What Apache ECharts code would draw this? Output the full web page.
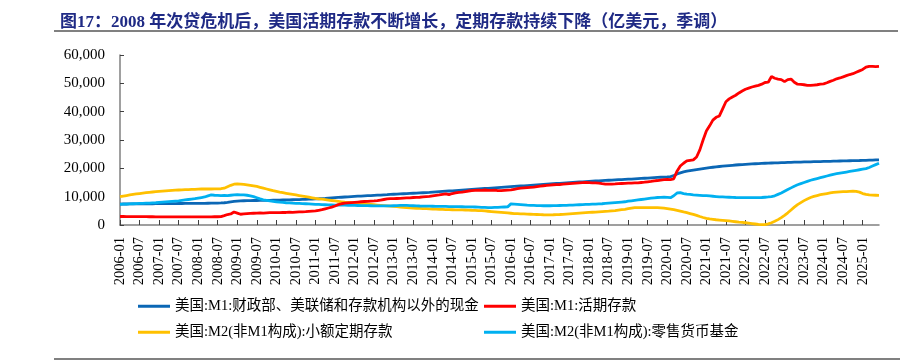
<!DOCTYPE html>
<html>
<head>
<meta charset="utf-8">
<script src="https://cdn.jsdelivr.net/npm/echarts@6/dist/echarts.min.js"></script>
<style>
html,body{margin:0;padding:0;background:#fff;}
#chart{width:918px;height:362px;}
</style>
</head>
<body>
<div id="chart"></div>
<script>
var titleText = '图17：2008 年次贷危机后，美国活期存款不断增长，定期存款持续下降（亿美元，季调）';
var seriesNames = [
  '美国:M1:财政部、美联储和存款机构以外的现金',
  '美国:M1:活期存款',
  '美国:M2(非M1构成):小额定期存款',
  '美国:M2(非M1构成):零售货币基金'
];
var startYear = 2006, monthCount = 234;
var yTicks = [0, 10000, 20000, 30000, 40000, 50000, 60000];

var currency = [
7400,7410,7420,7430,7440,7450,7460,7470,7480,7490,7500,7510,
7520,7530,7540,7550,7560,7570,7580,7590,7600,7610,7620,7630,
7640,7650,7660,7680,7700,7720,7750,7780,7850,8000,8200,8350,
8450,8520,8560,8600,8620,8640,8650,8660,8670,8690,8710,8740,
8770,8800,8830,8860,8890,8920,8950,8990,9030,9070,9110,9150,
9200,9260,9330,9400,9480,9560,9640,9720,9800,9880,9960,10040,
10100,10160,10220,10280,10340,10400,10460,10520,10580,10640,10700,10780,
10850,10910,10970,11030,11090,11150,11210,11270,11330,11390,11450,11520,
11600,11680,11760,11840,11920,12000,12080,12160,12240,12320,12400,12480,
12560,12640,12720,12800,12880,12960,13040,13120,13200,13280,13360,13440,
13520,13600,13680,13760,13840,13920,14000,14080,14160,14240,14320,14400,
14480,14560,14640,14720,14800,14880,14960,15040,15110,15180,15250,15320,
15390,15460,15530,15600,15670,15740,15800,15860,15920,15980,16040,16100,
16160,16220,16290,16360,16430,16500,16570,16640,16710,16780,16850,16920,
17000,17100,17400,18000,18400,18750,19000,19200,19400,19580,19750,19920,
20080,20230,20380,20520,20650,20770,20880,20980,21080,21170,21260,21340,
21420,21490,21560,21620,21680,21740,21790,21840,21880,21920,21960,22000,
22040,22080,22120,22160,22190,22220,22250,22280,22310,22340,22370,22400,
22430,22460,22490,22520,22550,22580,22610,22640,22670,22700,22730,22760,
22800,22840,22880,22920,22960,23000
];

var demandDeposits = [
3000,3010,2990,2980,2960,2970,2950,2930,2940,2920,2910,2900,
2890,2880,2900,2870,2860,2880,2850,2870,2860,2880,2870,2860,
2880,2870,2900,2880,2890,2910,2920,2950,3300,3700,3900,4600,
4200,3800,3900,4000,4100,4150,4200,4250,4200,4300,4350,4400,
4380,4400,4450,4420,4500,4480,4550,4600,4650,4700,4800,4900,
5000,5200,5400,5700,6000,6300,6700,7200,7500,7700,7800,7900,
8000,8100,8200,8300,8350,8450,8500,8600,8800,9000,9200,9300,
9300,9350,9400,9500,9550,9600,9700,9750,9800,9900,10000,10100,
10300,10450,10600,10800,11000,10700,11100,11300,11500,11600,11800,12000,
12100,12200,12300,12250,12350,12200,12250,12300,12150,12100,12200,12300,
12400,12600,12800,13000,13100,13200,13300,13400,13550,13700,13850,14000,
14100,14200,14250,14300,14400,14500,14600,14700,14800,14900,14950,15000,
14950,14900,14850,14800,14600,14450,14400,14450,14500,14600,14650,14700,
14750,14800,14850,14900,15000,15100,15250,15400,15600,15700,15850,16000,
16100,16050,16300,19000,20800,21800,22600,22800,23000,24000,26500,30000,
33200,35000,37000,38000,38500,41000,43500,44500,45200,45800,46600,47300,
47900,48300,48700,49000,49300,49700,50300,50400,52400,51800,51500,51300,
50600,51300,51500,50400,49700,49600,49500,49300,49300,49400,49500,49700,
49800,50200,50700,51100,51600,51900,52300,52700,53100,53400,53900,54400,
54900,55700,56000,56000,55900,56000
];

var smallTimeDeposits = [
10000,10200,10400,10600,10800,10950,11100,11250,11400,11550,11650,11750,
11850,11950,12050,12150,12250,12300,12350,12400,12450,12500,12550,12600,
12650,12700,12750,12700,12700,12750,12750,12800,13000,13500,14000,14400,
14500,14450,14350,14200,14000,13800,13600,13300,13000,12700,12400,12100,
11850,11600,11400,11200,11000,10800,10600,10400,10200,10000,9800,9600,
9400,9250,9100,8950,8800,8650,8500,8350,8200,8050,7950,7850,
7750,7650,7550,7450,7350,7250,7150,7050,6950,6850,6750,6650,
6550,6450,6350,6250,6150,6050,5950,5900,5850,5800,5750,5700,
5650,5600,5550,5500,5450,5400,5380,5360,5340,5320,5300,5280,
5200,5150,5100,5050,4950,4850,4750,4650,4550,4450,4350,4250,
4150,4050,4000,3950,3900,3850,3800,3750,3700,3650,3620,3600,
3600,3620,3650,3700,3780,3860,3940,4020,4100,4180,4260,4340,
4420,4500,4580,4660,4740,4820,4900,5000,5100,5250,5400,5550,
5750,5950,6100,6150,6150,6150,6150,6150,6150,6100,6050,5950,
5800,5600,5400,5150,4900,4600,4350,4050,3750,3400,3000,2650,
2350,2150,2000,1850,1750,1650,1550,1450,1300,1150,1000,900,
800,650,500,350,200,120,150,400,800,1300,1900,2600,
3400,4300,5300,6300,7200,7900,8600,9200,9700,10100,10400,10700,
10900,11100,11300,11500,11600,11700,11750,11800,11900,11950,11900,11600,
11100,10800,10600,10550,10500,10450
];

var retailMMF = [
7300,7350,7400,7450,7500,7550,7600,7650,7700,7750,7800,7850,
7950,8050,8150,8250,8350,8450,8550,8700,8850,9000,9150,9300,
9500,9700,9900,10300,10600,10500,10450,10400,10450,10350,10500,10650,
10700,10650,10600,10500,10300,10000,9600,9200,8900,8700,8500,8350,
8200,8050,7950,7850,7800,7700,7650,7600,7550,7500,7450,7400,
7300,7250,7200,7150,7100,7080,7050,7020,7000,6980,6950,6920,
6900,6880,6860,6840,6820,6800,6780,6760,6750,6740,6730,6720,
6800,6850,6900,6950,6900,6850,6800,6750,6700,6680,6660,6640,
6620,6600,6580,6560,6540,6520,6500,6480,6460,6440,6420,6400,
6400,6350,6300,6250,6200,6150,6150,6200,6250,6300,6350,6400,
7450,7400,7300,7200,7100,7000,6950,6900,6850,6820,6800,6800,
6800,6820,6850,6880,6900,6950,7000,7050,7100,7150,7200,7250,
7300,7350,7400,7450,7500,7600,7700,7800,7900,8000,8100,8200,
8400,8550,8700,8850,9000,9150,9300,9450,9600,9700,9750,9800,
9750,9650,10300,11300,11400,11100,10900,10800,10650,10550,10450,10350,
10350,10250,10150,10050,9950,9900,9850,9800,9750,9700,9680,9660,
9650,9640,9640,9640,9650,9700,9800,9900,10050,10300,10800,11300,
11900,12500,13100,13700,14200,14600,15000,15400,15800,16100,16400,16700,
17000,17300,17600,17900,18100,18300,18500,18700,18900,19100,19300,19500,
19700,19900,20300,20800,21300,21800
];

var seriesColors = ['#0B67B5', '#FF0000', '#FFC000', '#00B0F0'];

var months = [];
for (var k = 0; k < monthCount; k++) {
  var y = startYear + Math.floor(k / 12), m = k % 12 + 1;
  months.push(y + '-' + (m < 10 ? '0' + m : m));
}

var serifFont = '"Liberation Serif", "Times New Roman", "Noto Sans CJK SC", serif';
var allData = [currency, demandDeposits, smallTimeDeposits, retailMMF];

var series = seriesNames.map(function (n, i) {
  return {
    name: n, type: 'line', data: allData[i], showSymbol: false, symbol: 'none',
    lineStyle: { color: seriesColors[i], width: 2.8 },
    itemStyle: { color: seriesColors[i] },
    z: i === 1 ? 5 : 3,
    animation: false
  };
});

var legendPos = [[138, 299], [484, 299], [138, 325], [484, 325]];
var legends = seriesNames.map(function (n, i) {
  return {
    data: [n], left: legendPos[i][0], top: legendPos[i][1],
    icon: 'rect', itemWidth: 32, itemHeight: 3,
    textStyle: { fontFamily: serifFont, fontSize: 14.5, color: '#000' },
    padding: 0, selectedMode: false
  };
});

var chart = echarts.init(document.getElementById('chart'), null, { renderer: 'canvas' });
chart.setOption({
  backgroundColor: '#fff',
  animation: false,
  title: {
    text: titleText, left: 55, top: 9,
    textStyle: { fontFamily: serifFont, fontSize: 17, fontWeight: 'bold', color: '#1F2A85' }
  },
  graphic: [
    { type: 'line', shape: { x1: 54, y1: 31, x2: 898, y2: 31 }, style: { stroke: '#808080', lineWidth: 2 } },
    { type: 'line', shape: { x1: 54, y1: 359, x2: 900, y2: 359 }, style: { stroke: '#808080', lineWidth: 2 } }
  ],
  legend: legends,
  grid: { left: 120, right: 39, top: 55, bottom: 137, containLabel: false },
  xAxis: {
    type: 'category', data: months, boundaryGap: false,
    axisLine: { lineStyle: { color: '#808080', width: 1.5 } },
    axisTick: { inside: true, length: 5, interval: 5, lineStyle: { color: '#404040' } },
    axisLabel: { interval: 5, rotate: 90, margin: 12, fontFamily: serifFont, fontSize: 14.5, color: '#000' }
  },
  yAxis: {
    type: 'value', min: yTicks[0], max: yTicks[yTicks.length - 1], interval: yTicks[1] - yTicks[0],
    axisLine: { show: true, lineStyle: { color: '#808080', width: 1.5 } },
    axisTick: { show: true, inside: true, length: 4, lineStyle: { color: '#404040' } },
    splitLine: { show: false },
    axisLabel: {
      margin: 15, fontFamily: serifFont, fontSize: 15, color: '#000',
      formatter: function (v) { return v.toLocaleString('en-US'); }
    }
  },
  series: series
});
</script>
</body>
</html>
